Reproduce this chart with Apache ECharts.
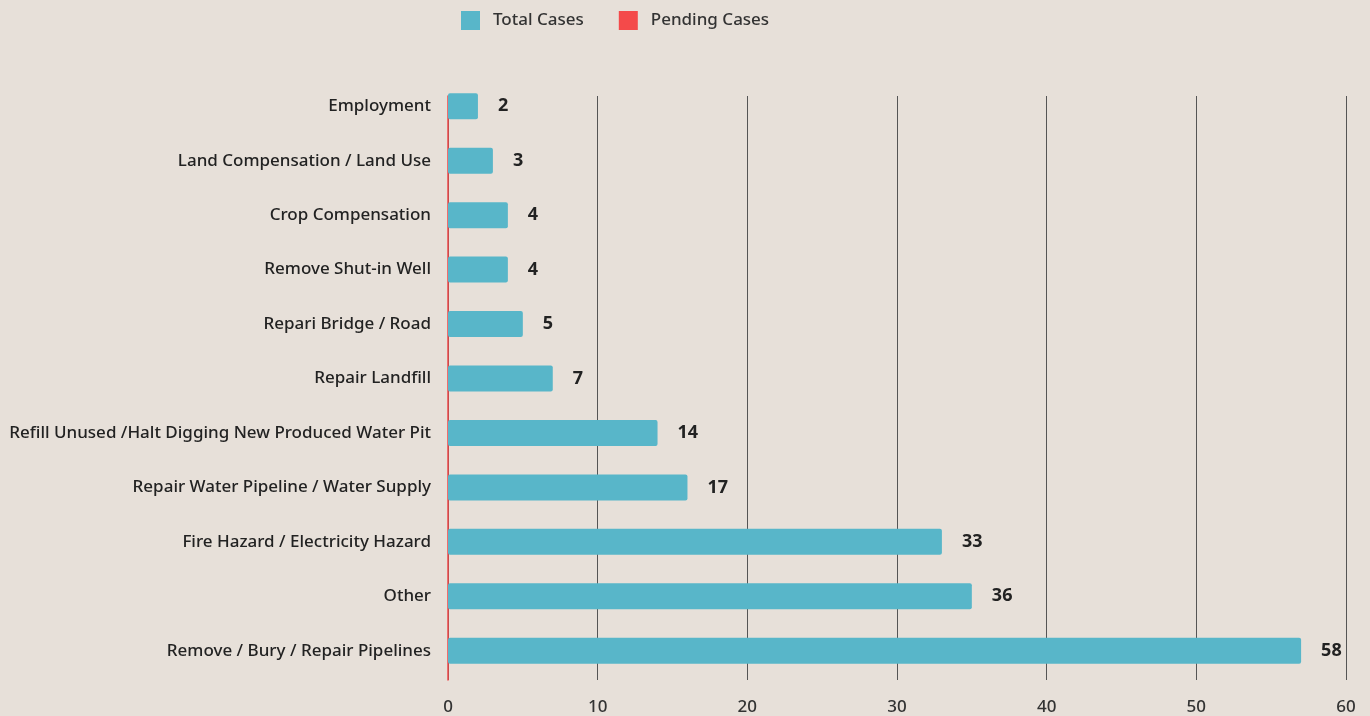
<!DOCTYPE html>
<html>
<head>
<meta charset="utf-8">
<script src="https://cdn.jsdelivr.net/npm/echarts@6/dist/echarts.min.js"></script>
<style>
html,body{margin:0;padding:0;background:#e7e0d9;}
#chart{width:1370px;height:716px;}
</style>
</head>
<body>
<div id="chart"></div>
<script>
const categories = [
  'Employment',
  'Land Compensation / Land Use',
  'Crop Compensation',
  'Remove Shut-in Well',
  'Repari Bridge / Road',
  'Repair Landfill',
  'Refill Unused /Halt Digging New Produced Water Pit',
  'Repair Water Pipeline / Water Supply',
  'Fire Hazard / Electricity Hazard',
  'Other',
  'Remove / Bury / Repair Pipelines'
];
// bar lengths as drawn in the picture
const totalCases = [2, 3, 4, 4, 5, 7, 14, 16, 33, 35, 57];
// numbers printed beside the bars
const totalLabels = [2, 3, 4, 4, 5, 7, 14, 17, 33, 36, 58];
const pendingCases = [0, 0, 0, 0, 0, 0, 0, 0, 0, 0, 0];
const xTicks = [0, 10, 20, 30, 40, 50, 60];

const FONT = '"Noto Sans", "Open Sans", sans-serif';
const chart = echarts.init(document.getElementById('chart'));
chart.setOption({
  backgroundColor: '#e7e0d9',
  animation: false,
  legend: {
    left: 456, top: 6,
    itemWidth: 19, itemHeight: 19, itemGap: 35,
    icon: 'rect',
    textStyle: { fontFamily: FONT, fontSize: 17, fontWeight: 500, color: '#333', padding: [0, 0, 0, 8] },
    data: ['Total Cases', 'Pending Cases']
  },
  grid: [
    { left: 448, right: 24, top: 79, bottom: 38 },
    { left: 448, right: 24, top: 96, bottom: 36 }
  ],
  xAxis: [
    { gridIndex: 0, type: 'value', min: xTicks[0], max: xTicks[xTicks.length - 1], interval: 10,
      axisLine: { show: false }, axisTick: { show: false }, axisLabel: { show: false }, splitLine: { show: false } },
    { gridIndex: 1, type: 'value', min: xTicks[0], max: xTicks[xTicks.length - 1], interval: 10,
      axisLine: { show: false }, axisTick: { show: false },
      axisLabel: { margin: 19, fontFamily: FONT, fontSize: 17, fontWeight: 500, color: '#333' },
      splitLine: { show: true, lineStyle: { color: '#555', width: 1 } } }
  ],
  yAxis: [
    { gridIndex: 0, type: 'category', data: categories, inverse: true,
      axisLine: { show: false }, axisTick: { show: false },
      axisLabel: { margin: 17, fontFamily: FONT, fontSize: 17, fontWeight: 500, color: '#222' } },
    { gridIndex: 1, type: 'category', data: categories, inverse: true,
      axisLine: { show: true, onZero: false, lineStyle: { color: '#f0484a', width: 1.5 } },
      axisTick: { show: false }, axisLabel: { show: false } }
  ],
  series: [
    {
      name: 'Total Cases', type: 'bar', stack: 'c', xAxisIndex: 0, yAxisIndex: 0,
      data: totalCases, barWidth: 26,
      itemStyle: { color: '#58b6c9', borderRadius: 2 },
      label: {
        show: true, position: 'right', distance: 20,
        fontFamily: FONT, fontSize: 18, fontWeight: 'bold', color: '#222',
        formatter: p => totalLabels[p.dataIndex]
      },
      z: 3
    },
    {
      name: 'Pending Cases', type: 'bar', stack: 'c', xAxisIndex: 0, yAxisIndex: 0,
      data: pendingCases, barWidth: 26,
      itemStyle: { color: '#f44a4a' }
    }
  ]
});
</script>
</body>
</html>
